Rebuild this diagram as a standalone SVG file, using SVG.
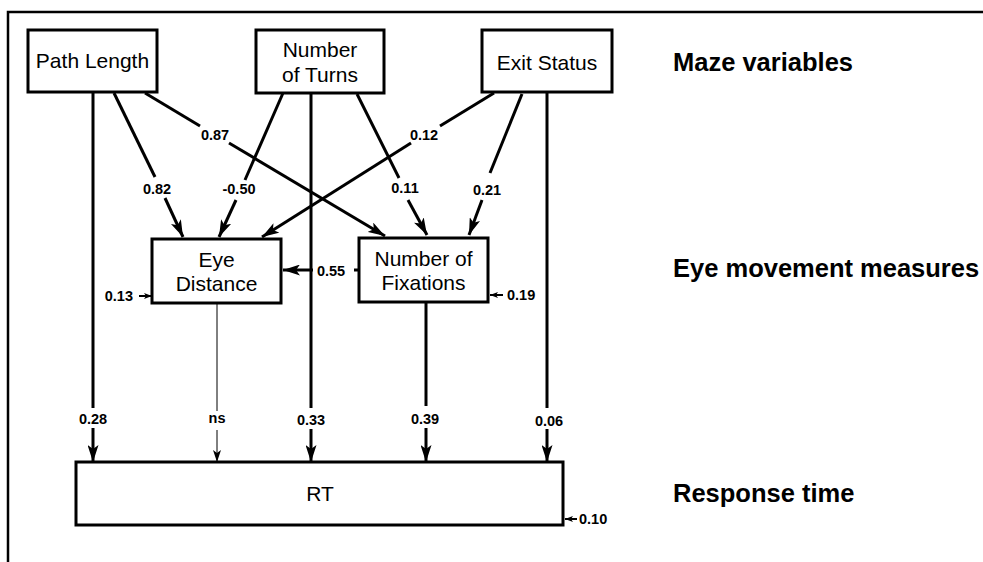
<svg xmlns="http://www.w3.org/2000/svg" width="983" height="562" viewBox="0 0 983 562">
<style>
.box{fill:#fff;stroke:#000;stroke-width:3}
.nt{font-family:"Liberation Sans",Arial,sans-serif;font-size:21px;text-anchor:middle;fill:#000}
.lv{font-family:"Liberation Sans",Arial,sans-serif;font-size:25.5px;font-weight:bold;fill:#000}
.cf{font-family:"Liberation Sans",Arial,sans-serif;font-size:14.5px;font-weight:bold;text-anchor:middle;fill:#000}
.ln{fill:none;stroke:#000;stroke-width:3}
.thin{fill:none;stroke:#000;stroke-width:1}
.sm{fill:none;stroke:#000;stroke-width:2}
</style>
<defs>
<marker id="arr" viewBox="0 0 17 11" refX="17" refY="5.5" markerWidth="17" markerHeight="11" markerUnits="userSpaceOnUse" orient="auto"><path d="M0,0 L17,5.5 L0,11 L4,5.5 z" fill="#000"/></marker>
<marker id="arrT" viewBox="0 0 12 8" refX="12" refY="4" markerWidth="12" markerHeight="8" markerUnits="userSpaceOnUse" orient="auto"><path d="M0,0 L12,4 L0,8 L3,4 z" fill="#000"/></marker>
<marker id="arrS" viewBox="0 0 8 6" refX="8" refY="3" markerWidth="8" markerHeight="6" markerUnits="userSpaceOnUse" orient="auto"><path d="M0,0 L8,3 L0,6 L2,3 z" fill="#000"/></marker>
</defs>
<rect width="983" height="562" fill="#fff"/>
<g id="frame"><path d="M8,562 L8,12 L983,12" fill="none" stroke="#000" stroke-width="2.5"/></g>
<g id="levels">
<text class="lv" x="673" y="71">Maze variables</text>
<text class="lv" x="673" y="277">Eye movement measures</text>
<text class="lv" x="673" y="502">Response time</text>
</g>
<g id="connectors">
<line class="ln" x1="93" y1="92" x2="93" y2="408"/>
<line class="ln" x1="93" y1="428" x2="93" y2="462" marker-end="url(#arr)"/>
<line class="thin" x1="217" y1="303" x2="217" y2="411"/>
<line class="thin" x1="217" y1="430" x2="217" y2="462" marker-end="url(#arrT)"/>
<line class="ln" x1="311" y1="93" x2="311" y2="408"/>
<line class="ln" x1="311" y1="429" x2="311" y2="462" marker-end="url(#arr)"/>
<line class="ln" x1="426" y1="302" x2="426" y2="406"/>
<line class="ln" x1="426" y1="428" x2="426" y2="462" marker-end="url(#arr)"/>
<line class="ln" x1="547" y1="92" x2="547" y2="408"/>
<line class="ln" x1="547" y1="429" x2="547" y2="462" marker-end="url(#arr)"/>
<line class="ln" x1="114" y1="93" x2="155" y2="177"/>
<line class="ln" x1="165" y1="198" x2="183" y2="237" marker-end="url(#arr)"/>
<line class="ln" x1="283" y1="93" x2="245" y2="180"/>
<line class="ln" x1="236" y1="200" x2="219" y2="237" marker-end="url(#arr)"/>
<line class="ln" x1="145" y1="93" x2="200" y2="126"/>
<line class="ln" x1="229" y1="143" x2="385" y2="236" marker-end="url(#arr)"/>
<line class="ln" x1="494" y1="93" x2="440" y2="126"/>
<line class="ln" x1="411" y1="143" x2="262" y2="237" marker-end="url(#arr)"/>
<line class="ln" x1="357" y1="94" x2="399" y2="178"/>
<line class="ln" x1="408" y1="200" x2="427" y2="235" marker-end="url(#arr)"/>
<line class="ln" x1="522" y1="94" x2="490" y2="173"/>
<line class="ln" x1="482" y1="200" x2="469" y2="235" marker-end="url(#arr)"/>
<line class="ln" x1="359" y1="270" x2="354" y2="270"/>
<line class="ln" x1="313" y1="270" x2="283" y2="270" marker-end="url(#arr)"/>
<line class="sm" x1="139" y1="296" x2="152" y2="296" marker-end="url(#arrS)"/>
<line class="sm" x1="503" y1="295" x2="490" y2="295" marker-end="url(#arrS)"/>
<line class="sm" x1="577" y1="519" x2="565" y2="519" marker-end="url(#arrS)"/>
</g>
<g id="labels">
<text class="cf" x="215" y="140">0.87</text>
<text class="cf" x="424" y="140">0.12</text>
<text class="cf" x="157" y="194">0.82</text>
<text class="cf" x="239" y="194">-0.50</text>
<text class="cf" x="405" y="193">0.11</text>
<text class="cf" x="487" y="195">0.21</text>
<text class="cf" x="331" y="276">0.55</text>
<text class="cf" x="133" y="301" style="text-anchor:end">0.13</text>
<text class="cf" x="507" y="300" style="text-anchor:start">0.19</text>
<text class="cf" x="579" y="524" style="text-anchor:start">0.10</text>
<text class="cf" x="93" y="424">0.28</text>
<text class="cf" x="217" y="423">ns</text>
<text class="cf" x="311" y="425">0.33</text>
<text class="cf" x="425" y="424">0.39</text>
<text class="cf" x="549" y="426">0.06</text>
</g>
<g id="path-length"><rect class="box" x="28" y="30" width="129" height="62"/><text class="nt" x="92.5" y="68">Path Length</text></g>
<g id="number-of-turns"><rect class="box" x="256" y="30" width="128" height="63"/><text class="nt" x="320" y="57">Number</text><text class="nt" x="320" y="82">of Turns</text></g>
<g id="exit-status"><rect class="box" x="482" y="30" width="130" height="62"/><text class="nt" x="547" y="70">Exit Status</text></g>
<g id="eye-distance"><rect class="box" x="152" y="239" width="129" height="64"/><text class="nt" x="216.5" y="267">Eye</text><text class="nt" x="216.5" y="291">Distance</text></g>
<g id="number-of-fixations"><rect class="box" x="359" y="238" width="129" height="64"/><text class="nt" x="423.5" y="266">Number of</text><text class="nt" x="423.5" y="290">Fixations</text></g>
<g id="rt"><rect class="box" x="76" y="462" width="487" height="63"/><text class="nt" x="320" y="501">RT</text></g>
</svg>
